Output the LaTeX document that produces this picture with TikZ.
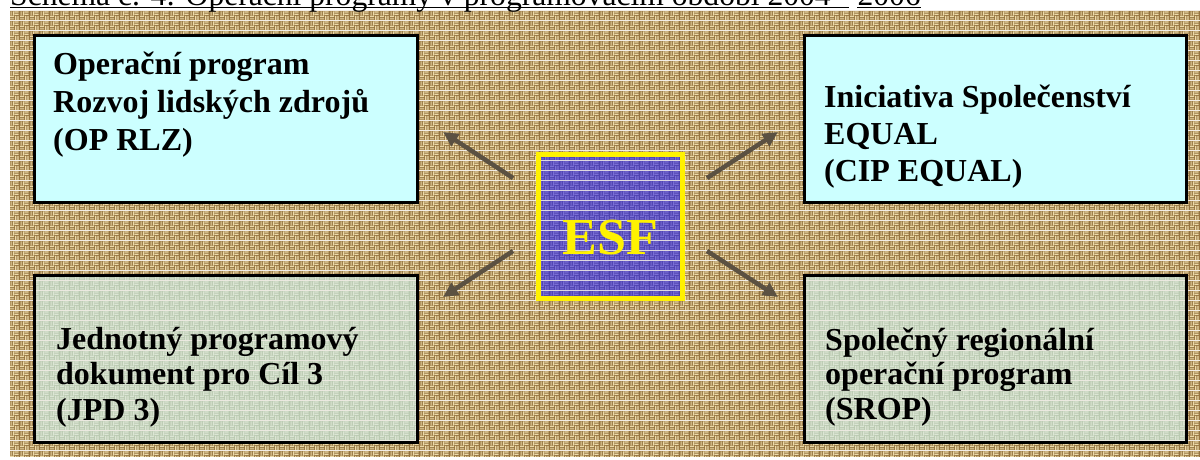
\documentclass[tikz,border=0pt]{standalone}
\usepackage{fontspec}
\setmainfont{Liberation Serif}
\usetikzlibrary{arrows.meta,patterns}

\definecolor{burlapL}{HTML}{EDDBAA}
\definecolor{burlapD}{HTML}{94733F}
\definecolor{cyanbox}{HTML}{CCFFFF}
\definecolor{linenL}{HTML}{DCE6D5}
\definecolor{linenD}{HTML}{BACAB1}
\definecolor{esfL}{HTML}{7A70D6}
\definecolor{esfD}{HTML}{4E42B0}
\definecolor{arrowc}{HTML}{5B5142}

\newcommand\mkweave[3]{%
\pgfdeclarepatterninherentlycolored{#1}{\pgfpointorigin}{\pgfpoint{10pt}{10pt}}{\pgfpoint{10pt}{10pt}}{%
  \pgfsetfillcolor{#2}%
  \pgfpathrectangle{\pgfpointorigin}{\pgfpoint{10pt}{10pt}}\pgfusepath{fill}%
  \pgfsetfillcolor{#3}%
  \pgfpathrectangle{\pgfpoint{0pt}{0.6pt}}{\pgfpoint{4.5pt}{1.3pt}}%
  \pgfpathrectangle{\pgfpoint{0pt}{3.1pt}}{\pgfpoint{4.5pt}{1.3pt}}%
  \pgfpathrectangle{\pgfpoint{5pt}{5.6pt}}{\pgfpoint{4.5pt}{1.3pt}}%
  \pgfpathrectangle{\pgfpoint{5pt}{8.1pt}}{\pgfpoint{4.5pt}{1.3pt}}%
  \pgfpathrectangle{\pgfpoint{5.6pt}{0pt}}{\pgfpoint{1.3pt}{4.5pt}}%
  \pgfpathrectangle{\pgfpoint{8.1pt}{0pt}}{\pgfpoint{1.3pt}{4.5pt}}%
  \pgfpathrectangle{\pgfpoint{0.6pt}{5pt}}{\pgfpoint{1.3pt}{4.5pt}}%
  \pgfpathrectangle{\pgfpoint{3.1pt}{5pt}}{\pgfpoint{1.3pt}{4.5pt}}%
  \pgfusepath{fill}%
}}
\mkweave{burlap}{burlapD}{burlapL}
\mkweave{linen}{linenD}{linenL}
\mkweave{esfweave}{esfD}{esfL}

\tikzset{
  titletext/.style={inner sep=0pt, anchor=base west, font=\fontsize{31.6}{36}\selectfont},
  box/.style={draw=black, line width=3pt, inner sep=0pt, minimum width=383pt, minimum height=167pt},
  topbox/.style={box, fill=cyanbox},
  botbox/.style={box, pattern=linen},
  boxtext/.style={inner sep=0pt, anchor=base west, font=\fontsize{32}{#1}\selectfont\bfseries},
  esfbox/.style={draw=yellow, line width=5pt, pattern=esfweave, minimum size=144pt, inner sep=0pt},
  esftext/.style={inner sep=0pt, anchor=base, text=yellow, font=\fontsize{52}{52}\selectfont\bfseries},
  arr/.style={draw=arrowc, line width=4.5pt, -{Triangle[length=15pt,width=14pt]}}
}

\begin{document}
\begin{tikzpicture}[x=1pt,y=-1pt]
\useasboundingbox (0,0) rectangle (1200,459);
% background texture
\fill[pattern=burlap] (10,10) rectangle (1200,456);

% title (cut at the top, as in the source)
\node[titletext] (t1) at (10,5) {Schéma č. 4: Operační programy v programovacím období 2004 -};
\node[titletext] (t2) at ([xshift=8pt]t1.base east) {2006};
\draw[line width=1.5pt] ([yshift=-2.5pt]t1.base west) -- ([yshift=-2.5pt]t1.base east);
\draw[line width=1.5pt] ([yshift=-2.5pt]t2.base west) -- ([yshift=-2.5pt]t2.base east);

% boxes
\node[topbox] (tl) at (226,119) {};
\node[topbox, minimum width=382pt] (tr) at (995.5,119) {};
\node[botbox] (bl) at (226,359) {};
\node[botbox, minimum width=382pt] (br) at (995.5,359) {};

\node[boxtext=38] (tlt) at (53,74) {\parbox[t]{360pt}{Operační program\\Rozvoj lidských zdrojů\\(OP RLZ)}};
\node[boxtext=37] (trt) at (824,107) {\parbox[t]{360pt}{Iniciativa Společenství\\EQUAL\\(CIP EQUAL)}};
\node[boxtext=35.5] (blt) at (56,349) {\parbox[t]{360pt}{Jednotný programový\\dokument pro Cíl 3\\(JPD 3)}};
\node[boxtext=34.5] (brt) at (825,350) {\parbox[t]{360pt}{Společný regionální\\operační program\\(SROP)}};

% ESF
\node[esfbox] (esf) at (610.5,226.5) {};
\node[esftext] (esft) at (610.5,254) {ESF};

% arrows
\coordinate (tlS) at (513,178); \coordinate (tlE) at (443,132);
\coordinate (trS) at (707,178); \coordinate (trE) at (778,132);
\coordinate (blS) at (513,251); \coordinate (blE) at (443,297);
\coordinate (brS) at (707,251); \coordinate (brE) at (778,297);
\draw[arr] (tlS) -- (tlE);
\draw[arr] (trS) -- (trE);
\draw[arr] (blS) -- (blE);
\draw[arr] (brS) -- (brE);
\end{tikzpicture}
\end{document}
